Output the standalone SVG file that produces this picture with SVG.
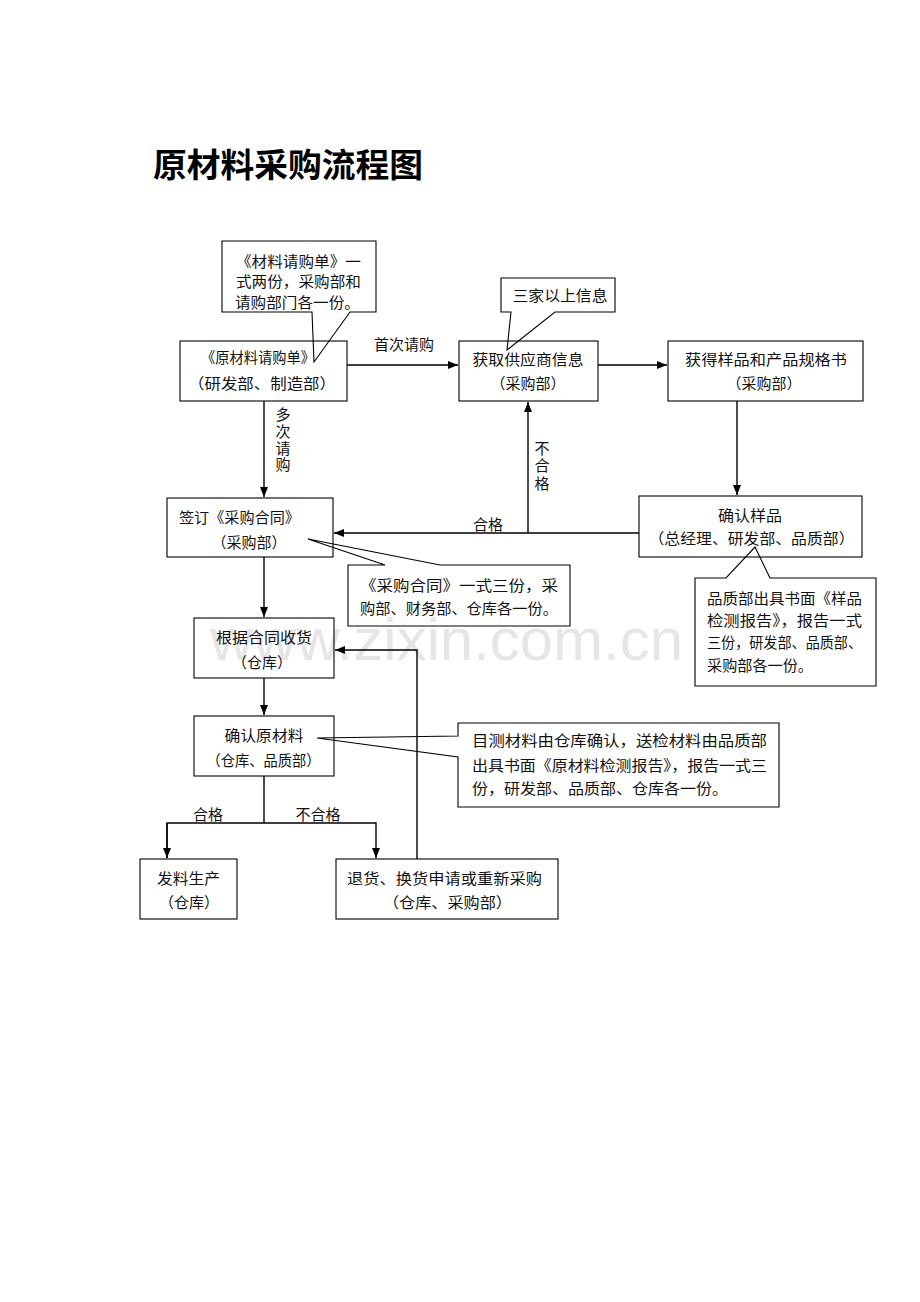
<svg xmlns="http://www.w3.org/2000/svg" width="920" height="1302" viewBox="0 0 920 1302">
<style>
text{font-family:"Noto Sans CJK SC",sans-serif;font-size:15px;fill:#111}
.c{text-anchor:middle}
.box{fill:none;stroke:#000;stroke-width:1.1}
.co{fill:none;stroke:#000;stroke-width:1.1;stroke-linejoin:miter}
.ln{fill:none;stroke:#000;stroke-width:1.4}
.title{font-size:33px;font-weight:bold;fill:#000}
.wm{font-family:"Liberation Sans",Arial,sans-serif;font-size:60px;fill:#e6e6e6}
</style>
<defs>
<marker id="ah" markerWidth="10" markerHeight="8" refX="10" refY="4" orient="auto" markerUnits="userSpaceOnUse">
<path d="M0,0 L10,4 L0,8 Z" fill="#000"/>
</marker>
</defs>
<rect width="920" height="1302" fill="#fff"/>
<text class="wm" x="210" y="660" textLength="473" lengthAdjust="spacingAndGlyphs">www.zixin.com.cn</text>
<text class="title" x="153" y="177" textLength="270" lengthAdjust="spacingAndGlyphs">原材料采购流程图</text>

<g id="connectors">
<line class="ln" x1="347" y1="365" x2="458" y2="365" marker-end="url(#ah)"/>
<line class="ln" x1="598" y1="365" x2="667" y2="365" marker-end="url(#ah)"/>
<line class="ln" x1="737" y1="401" x2="737" y2="495" marker-end="url(#ah)"/>
<line class="ln" x1="639" y1="533" x2="334" y2="533" marker-end="url(#ah)"/>
<line class="ln" x1="528" y1="533" x2="528" y2="402" marker-end="url(#ah)"/>
<line class="ln" x1="264" y1="401" x2="264" y2="497" marker-end="url(#ah)"/>
<line class="ln" x1="264" y1="557" x2="264" y2="617" marker-end="url(#ah)"/>
<line class="ln" x1="264" y1="678" x2="264" y2="715" marker-end="url(#ah)"/>
<line class="ln" x1="264" y1="776" x2="264" y2="823"/>
<polyline class="ln" points="167,858 167,823 376,823 376,858" marker-end="url(#ah)"/>
<line class="ln" x1="167" y1="823" x2="167" y2="858" marker-end="url(#ah)"/>
<polyline class="ln" points="417,859 417,650 335,650" marker-end="url(#ah)"/>
<text class="c" x="404" y="350">首次请购</text>
<text class="c" x="283" y="420">多</text>
<text class="c" x="283" y="437">次</text>
<text class="c" x="283" y="454">请</text>
<text class="c" x="283" y="470">购</text>
<text class="c" x="542" y="454">不</text>
<text class="c" x="542" y="471">合</text>
<text class="c" x="542" y="489">格</text>
<text class="c" x="488" y="530">合格</text>
<text class="c" x="208" y="820">合格</text>
<text class="c" x="318" y="820">不合格</text>
</g>

<g id="node-request">
<rect class="box" x="180" y="341" width="167" height="60"/>
<text class="c" x="258" y="363" textLength="114" lengthAdjust="spacingAndGlyphs">《原材料请购单》</text>
<text class="c" x="262" y="389" textLength="148" lengthAdjust="spacingAndGlyphs">（研发部、制造部）</text>
</g>

<g id="note-request">
<path class="co" d="M222,241 H376 V312 H350 L314,362 L312,312 H222 Z"/>
<text x="236" y="267" textLength="125" lengthAdjust="spacingAndGlyphs">《材料请购单》一</text>
<text x="236" y="287" textLength="125" lengthAdjust="spacingAndGlyphs">式两份，采购部和</text>
<text x="235" y="307.5" textLength="125" lengthAdjust="spacingAndGlyphs">请购部门各一份。</text>
</g>

<g id="note-three">
<path class="co" d="M501,278 H615 V312 H555 L507,350 L511,312 H501 Z"/>
<text class="c" x="560" y="300.5" textLength="95" lengthAdjust="spacingAndGlyphs">三家以上信息</text>
</g>

<g id="node-supplier">
<rect class="box" x="459" y="341" width="139" height="60"/>
<text class="c" x="528" y="364.5" textLength="111" lengthAdjust="spacingAndGlyphs">获取供应商信息</text>
<text class="c" x="528" y="389">（采购部）</text>
</g>

<g id="node-sample">
<rect class="box" x="668" y="341" width="195" height="60"/>
<text class="c" x="766" y="364.5" textLength="162" lengthAdjust="spacingAndGlyphs">获得样品和产品规格书</text>
<text class="c" x="764" y="389">（采购部）</text>
</g>

<g id="node-confirm-sample">
<rect class="box" x="639" y="496" width="223" height="61"/>
<text class="c" x="750" y="520.5" textLength="64" lengthAdjust="spacingAndGlyphs">确认样品</text>
<text class="c" x="751.5" y="543.5" textLength="206" lengthAdjust="spacingAndGlyphs">（总经理、研发部、品质部）</text>
</g>

<g id="note-sample">
<path class="co" d="M695,578 H726 L755,547 L770,578 H876 V686 H695 Z"/>
<text x="707" y="603.5" textLength="155" lengthAdjust="spacingAndGlyphs">品质部出具书面《样品</text>
<text x="707" y="625.5" textLength="155" lengthAdjust="spacingAndGlyphs">检测报告》，报告一式</text>
<text x="707" y="647.5" textLength="155" lengthAdjust="spacingAndGlyphs">三份，研发部、品质部、</text>
<text x="707" y="670.5" textLength="106" lengthAdjust="spacingAndGlyphs">采购部各一份。</text>
</g>

<g id="node-contract">
<rect class="box" x="167" y="498" width="166" height="59"/>
<text x="179" y="522.5" textLength="121" lengthAdjust="spacingAndGlyphs">签订《采购合同》</text>
<text class="c" x="249" y="547.5">（采购部）</text>
</g>

<g id="note-contract">
<path class="co" d="M348,565 H385 L308,539 L440,565 H570 V626 H348 Z"/>
<text x="360" y="590.5" textLength="198" lengthAdjust="spacingAndGlyphs">《采购合同》一式三份，采</text>
<text x="360" y="613.5" textLength="198" lengthAdjust="spacingAndGlyphs">购部、财务部、仓库各一份。</text>
</g>

<g id="node-receive">
<rect class="box" x="194" y="618" width="140" height="60"/>
<text class="c" x="264" y="642.5" textLength="96" lengthAdjust="spacingAndGlyphs">根据合同收货</text>
<text class="c" x="262" y="667.5">（仓库）</text>
</g>

<g id="node-confirm-material">
<rect class="box" x="194" y="716" width="140" height="60"/>
<text class="c" x="264" y="740.5" textLength="79" lengthAdjust="spacingAndGlyphs">确认原材料</text>
<text class="c" x="263.5" y="765.5" textLength="114" lengthAdjust="spacingAndGlyphs">（仓库、品质部）</text>
</g>

<g id="note-material">
<path class="co" d="M458,723 H779 V807 H458 V757 L317,738 L458,736 Z"/>
<text x="472" y="745.5" textLength="295" lengthAdjust="spacingAndGlyphs">目测材料由仓库确认，送检材料由品质部</text>
<text x="472" y="770.5" textLength="295" lengthAdjust="spacingAndGlyphs">出具书面《原材料检测报告》，报告一式三</text>
<text x="472" y="793.5" textLength="256" lengthAdjust="spacingAndGlyphs">份，研发部、品质部、仓库各一份。</text>
</g>

<g id="node-production">
<rect class="box" x="140" y="859" width="97" height="60"/>
<text class="c" x="188.5" y="883.5" textLength="63" lengthAdjust="spacingAndGlyphs">发料生产</text>
<text class="c" x="189" y="907.5">（仓库）</text>
</g>

<g id="node-return">
<rect class="box" x="336" y="859" width="222" height="60"/>
<text x="347" y="883.5" textLength="195" lengthAdjust="spacingAndGlyphs">退货、换货申请或重新采购</text>
<text class="c" x="447.5" y="907.5" textLength="129" lengthAdjust="spacingAndGlyphs">（仓库、采购部）</text>
</g>
</svg>
